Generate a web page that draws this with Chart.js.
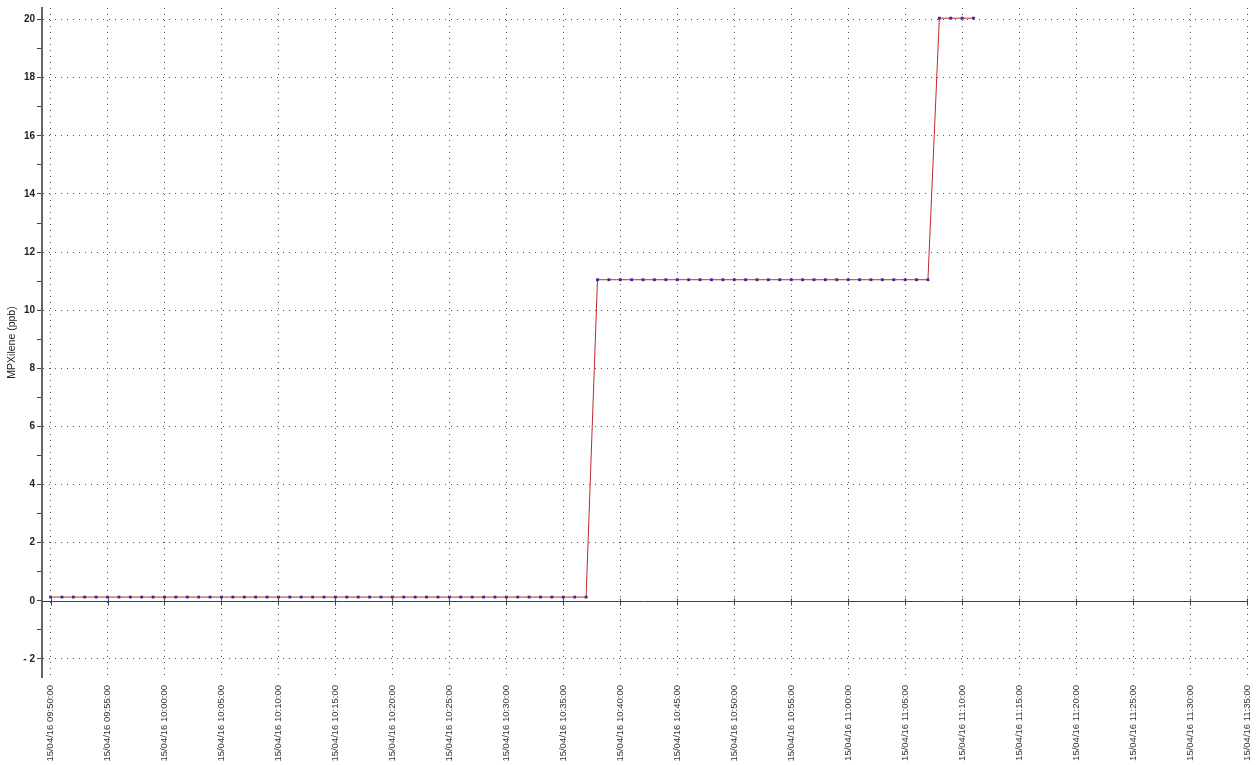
<!DOCTYPE html>
<html>
<head>
<meta charset="utf-8">
<script src="https://cdn.jsdelivr.net/npm/chart.js@4.4.1/dist/chart.umd.min.js"></script>
<style>
  html, body { margin: 0; padding: 0; background: #fff; }
  #wrap { width: 1256px; height: 765px; position: relative; }
</style>
</head>
<body>
<div id="wrap"><canvas id="chart-xilene"></canvas></div>
<script>
// sample date shown on every x tick
const sampleDate = '15/04/16';
const axisStart = '09:50';

// one sample per minute
const sampleTimes = [
  '09:50','09:51','09:52','09:53','09:54','09:55','09:56','09:57','09:58','09:59',
  '10:00','10:01','10:02','10:03','10:04','10:05','10:06','10:07','10:08','10:09',
  '10:10','10:11','10:12','10:13','10:14','10:15','10:16','10:17','10:18','10:19',
  '10:20','10:21','10:22','10:23','10:24','10:25','10:26','10:27','10:28','10:29',
  '10:30','10:31','10:32','10:33','10:34','10:35','10:36','10:37','10:38','10:39',
  '10:40','10:41','10:42','10:43','10:44','10:45','10:46','10:47','10:48','10:49',
  '10:50','10:51','10:52','10:53','10:54','10:55','10:56','10:57','10:58','10:59',
  '11:00','11:01','11:02','11:03','11:04','11:05','11:06','11:07','11:08','11:09',
  '11:10','11:11'
];

// MPXilene (ppb)
const xileneValues = [
  0.13, 0.13, 0.13, 0.13, 0.13, 0.13, 0.13, 0.13, 0.13, 0.13,
  0.13, 0.13, 0.13, 0.13, 0.13, 0.13, 0.13, 0.13, 0.13, 0.13,
  0.13, 0.13, 0.13, 0.13, 0.13, 0.13, 0.13, 0.13, 0.13, 0.13,
  0.13, 0.13, 0.13, 0.13, 0.13, 0.13, 0.13, 0.13, 0.13, 0.13,
  0.13, 0.13, 0.13, 0.13, 0.13, 0.13, 0.13, 0.13, 11.05, 11.05,
  11.05, 11.05, 11.05, 11.05, 11.05, 11.05, 11.05, 11.05, 11.05, 11.05,
  11.05, 11.05, 11.05, 11.05, 11.05, 11.05, 11.05, 11.05, 11.05, 11.05,
  11.05, 11.05, 11.05, 11.05, 11.05, 11.05, 11.05, 11.05, 20.05, 20.05,
  20.05, 20.05
];

const FONT = 'Liberation Sans, Arial, sans-serif';

const toMinutes = (t) => {
  const [h, m] = t.split(':').map(Number);
  const [h0, m0] = axisStart.split(':').map(Number);
  return h * 60 + m - (h0 * 60 + m0);
};

const fmtTick = (v) => {
  const [h0, m0] = axisStart.split(':').map(Number);
  const total = h0 * 60 + m0 + Math.round(v);
  const hh = String(Math.floor(total / 60)).padStart(2, '0');
  const mm = String(total % 60).padStart(2, '0');
  return `${sampleDate} ${hh}:${mm}:00`;
};

// little tick marks on the zero line, like the original x axis
const zeroAxis = {
  id: 'zeroAxis',
  beforeDatasetsDraw(chart) {
    const { ctx, scales: { x, y }, chartArea } = chart;
    const y0 = Math.round(y.getPixelForValue(0)) + 0.5;
    ctx.save();
    ctx.strokeStyle = '#444';
    ctx.lineWidth = 1;
    ctx.beginPath();
    ctx.moveTo(chartArea.left, y0);
    ctx.lineTo(chartArea.right, y0);
    x.ticks.forEach(t => {
      const px = Math.round(x.getPixelForValue(t.value)) + 0.5;
      ctx.moveTo(px, y0 - 3);
      ctx.lineTo(px, y0 + 4);
    });
    ctx.stroke();
    ctx.restore();
  }
};

const ctx = document.getElementById('chart-xilene').getContext('2d');

new Chart(ctx, {
  type: 'line',
  data: {
    datasets: [{
      label: 'MPXilene (ppb)',
      data: sampleTimes.map((t, i) => ({ x: toMinutes(t), y: xileneValues[i] })),
      borderColor: '#c02a2a',
      borderWidth: 1,
      pointStyle: 'rect',
      pointRadius: 2,
      pointBorderWidth: 0,
      pointBackgroundColor: '#3b2d8f',
      tension: 0,
      fill: false
    }]
  },
  options: {
    responsive: true,
    maintainAspectRatio: false,
    devicePixelRatio: 1,
    animation: false,
    layout: { padding: { top: 4, right: 9, left: 0, bottom: 0 } },
    plugins: {
      legend: { display: false },
      tooltip: { enabled: false }
    },
    scales: {
      x: {
        type: 'linear',
        min: -0.75,
        max: 105,
        border: { display: false, dash: [1, 5] },
        grid: { color: '#555', lineWidth: 1, drawTicks: false },
        ticks: {
          stepSize: 5,
          includeBounds: false,
          autoSkip: false,
          minRotation: 90,
          maxRotation: 90,
          padding: 8,
          color: '#333',
          font: { family: FONT, size: 9.5 },
          callback: (v) => fmtTick(v)
        },
        afterFit: (s) => {
          s.height = 88;
          s.paddingLeft = 0;
          s.paddingRight = 0;
        }
      },
      y: {
        min: -2.62,
        max: 20.4,
        border: {
          display: true,
          color: '#666',
          width: 2,
          dash: (c) => (c.tick && c.tick.value === 0) ? [] : [1, 5]
        },
        grid: {
          color: (c) => {
            const v = c.tick.value;
            if (v === 0) return 'rgba(0,0,0,0)';
            return v % 2 === 0 ? '#555' : 'rgba(0,0,0,0)';
          },
          lineWidth: 1,
          tickColor: '#444',
          tickLength: 5
        },
        ticks: {
          stepSize: 1,
          includeBounds: false,
          autoSkip: false,
          padding: 2,
          color: '#222',
          font: { family: FONT, size: 10, weight: 'bold' },
          callback: (v) => {
            if (v % 2 !== 0) return '';
            return v < 0 ? '- ' + Math.abs(v) : String(v);
          }
        },
        title: {
          display: true,
          text: 'MPXilene (ppb)',
          color: '#222',
          font: { family: FONT, size: 10.5 },
          padding: { top: 6, bottom: 0 }
        },
        afterFit: (s) => { s.width = 42; }
      }
    }
  },
  plugins: [zeroAxis]
});
</script>
</body>
</html>
